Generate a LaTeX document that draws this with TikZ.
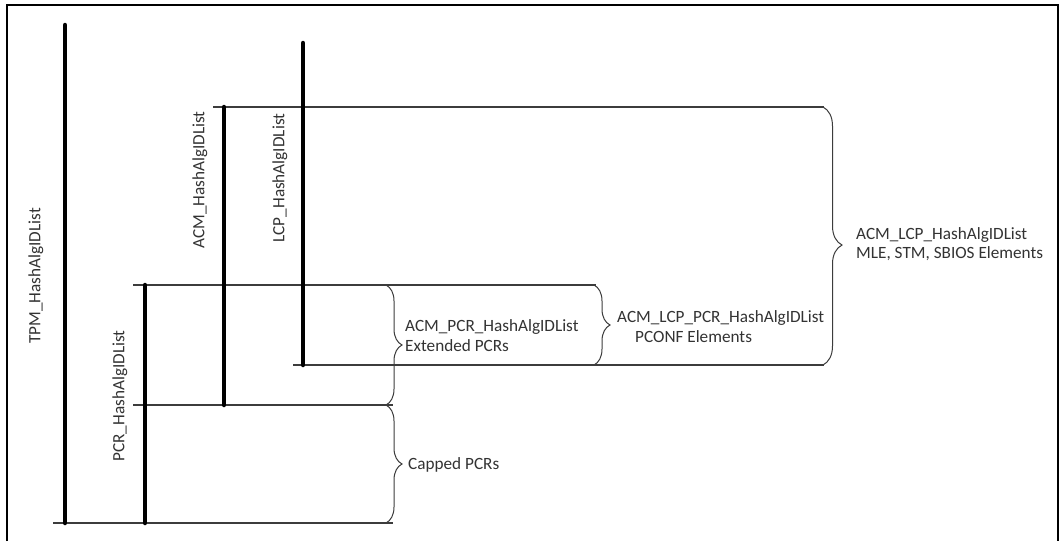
\documentclass[tikz,border=0pt]{standalone}
\usepackage{fontspec}
\setmainfont{Carlito}
\usetikzlibrary{decorations.pathreplacing}
\definecolor{ln}{HTML}{3C3C3C}
\definecolor{tx}{HTML}{333333}
\tikzset{
  bar/.style={line width=4.5pt, black, line cap=round},
  hline/.style={line width=1.1pt, ln},
  brc/.style={decorate, line width=1pt, ln, decoration={brace, amplitude=#1}},
  brc/.default=16pt,
  lbl/.style={font=\fontsize{17.2}{19}\selectfont, text=tx, inner sep=0pt},
  vlbl/.style={lbl, rotate=90},
}
\begin{document}
\begin{tikzpicture}[x=1pt, y=-1pt]
\useasboundingbox (0,0) rectangle (1060,541);
\fill[white] (0,0) rectangle (1060,541);
% frame
\draw[line width=2.2pt, black] (7,541) -- (7,5) -- (1058,5) -- (1058,541);

% bar ends
\coordinate (tpmT) at (65,25);   \coordinate (tpmB) at (65,523);
\coordinate (pcrT) at (145,285); \coordinate (pcrB) at (145,523);
\coordinate (acmT) at (224,107); \coordinate (acmB) at (224,405);
\coordinate (lcpT) at (303,43);  \coordinate (lcpB) at (303,365);

% horizontal line ends
\coordinate (l1a) at (213,107); \coordinate (l1b) at (824,107);
\coordinate (l2a) at (133,285); \coordinate (l2b) at (596,285);
\coordinate (l3a) at (293,365); \coordinate (l3b) at (824,365);
\coordinate (l4a) at (133,405); \coordinate (l4b) at (393,405);
\coordinate (l5a) at (53,523);  \coordinate (l5b) at (393,523);

% brace ends
\coordinate (b1a) at (386,285); \coordinate (b1b) at (386,405);
\coordinate (b2a) at (386,405); \coordinate (b2b) at (386,523);
\coordinate (b3a) at (594,285); \coordinate (b3b) at (594,365);
\coordinate (b4a) at (823,107); \coordinate (b4b) at (823,365);

% horizontal lines
\draw[hline] (l1a) -- (l1b);
\draw[hline] (l2a) -- (l2b);
\draw[hline] (l3a) -- (l3b);
\draw[hline] (l4a) -- (l4b);
\draw[hline] (l5a) -- (l5b);

% bars
\draw[bar] (tpmT) -- (tpmB);
\draw[bar] (pcrT) -- (pcrB);
\draw[bar] (acmT) -- (acmB);
\draw[bar] (lcpT) -- (lcpB);

% braces
\draw[brc] (b1a) -- (b1b);
\draw[brc] (b2a) -- (b2b);
\draw[brc] (b3a) -- (b3b);
\draw[brc=19pt, decoration={aspect=0.535}] (b4a) -- (b4b);

% vertical labels
\node[vlbl] (tpm) at (36,276) {TPM\_HashAlgIDList};
\node[vlbl] (pcr) at (120,396) {PCR\_HashAlgIDList};
\node[vlbl] (acm) at (200,180) {ACM\_HashAlgIDList};
\node[vlbl] (lcp) at (280,178) {LCP\_HashAlgIDList};

% brace labels
\node[lbl, anchor=west] (acmpcr) at (405,327) {ACM\_PCR\_HashAlgIDList};
\node[lbl, anchor=west] (ext) at (405,346) {Extended PCRs};
\node[lbl, anchor=west] (cap) at (408,465) {Capped PCRs};
\node[lbl, anchor=west] (alp) at (617,318) {ACM\_LCP\_PCR\_HashAlgIDList};
\node[lbl, anchor=west] (pconf) at (635,337) {PCONF Elements};
\node[lbl, anchor=west] (al) at (856,235) {ACM\_LCP\_HashAlgIDList};
\node[lbl, anchor=west] (mle) at (856,254) {MLE, STM, SBIOS Elements};
\end{tikzpicture}
\end{document}
